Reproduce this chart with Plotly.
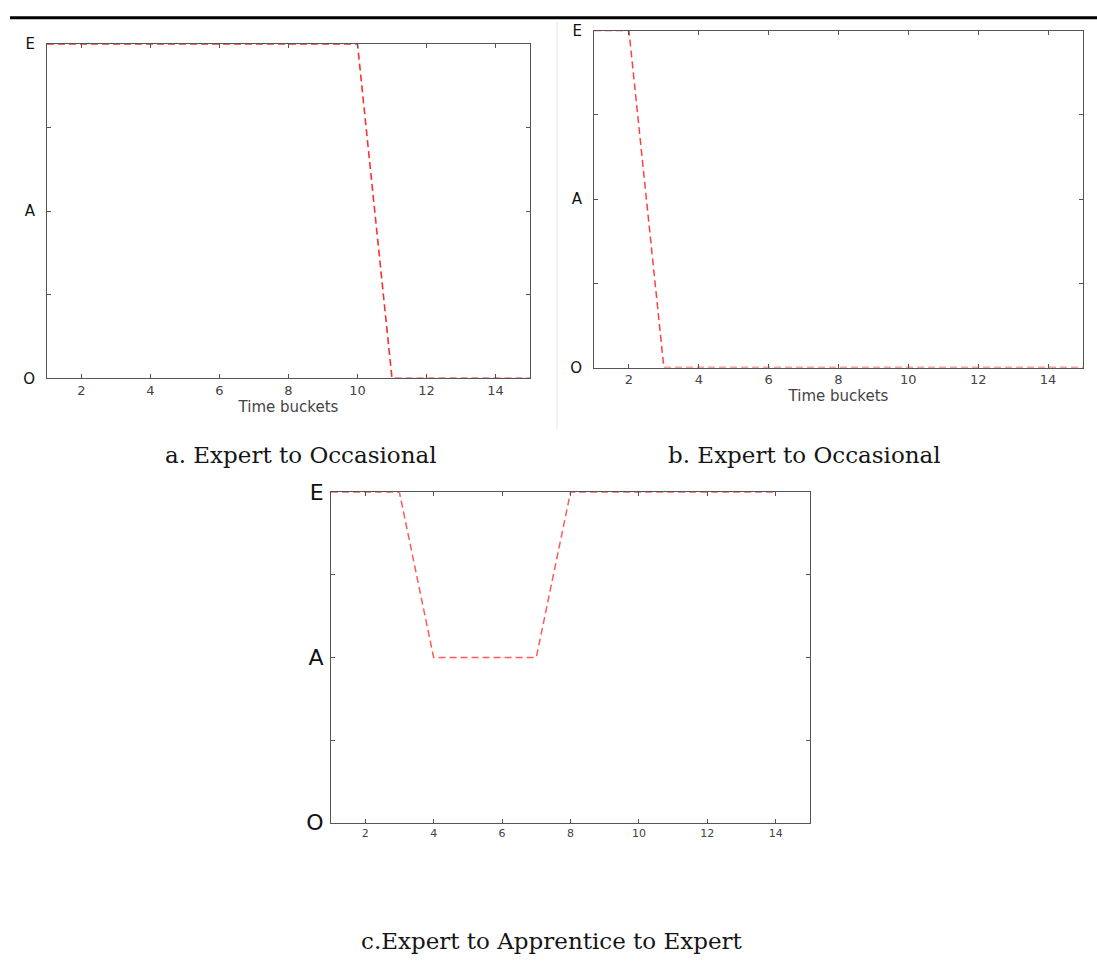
import plotly.graph_objects as go

# ---- data ----
x_a = list(range(1, 16))
state_a = [2] * 10 + [0] * 5            # E for buckets 1-10, then O

x_b = list(range(1, 16))
state_b = [2] * 2 + [0] * 13            # E for buckets 1-2, then O

x_c = list(range(1, 15))
state_c = [2, 2, 2, 1, 1, 1, 1, 2, 2, 2, 2, 2, 2, 2]   # E -> A -> E

x_ticks = [2, 4, 6, 8, 10, 12, 14]
y_tickvals = [0, 0.5, 1, 1.5, 2]
y_ticktext = ["O", "", "A", "", "E"]

captions = ["a. Expert to Occasional", "b. Expert to Occasional",
            "c.Expert to Apprentice to Expert"]

W, H = 1097, 971
def px(x): return x / W
def py(y): return 1 - y / H

fig = go.Figure()
fig.add_trace(go.Scatter(x=x_a, y=state_a, mode="lines", xaxis="x", yaxis="y",
                         line=dict(color="#ff2e2e", width=1.6, dash="7px,4px"), showlegend=False))
fig.add_trace(go.Scatter(x=x_b, y=state_b, mode="lines", xaxis="x2", yaxis="y2",
                         line=dict(color="#ff4040", width=1.5, dash="7px,4px"), showlegend=False))
fig.add_trace(go.Scatter(x=x_c, y=state_c, mode="lines", xaxis="x3", yaxis="y3",
                         line=dict(color="#ff5a5a", width=1.5, dash="7px,4px"), showlegend=False))

axis_common = dict(showline=True, linecolor="#555555", linewidth=1, mirror="ticks",
                   ticks="inside", ticklen=4, tickcolor="#555555", showgrid=False,
                   zeroline=False)

def xax(domain, anchor, size, title=None):
    d = dict(axis_common, domain=domain, anchor=anchor, range=[1, 15],
             tickvals=x_ticks, tickfont=dict(family="DejaVu Sans", size=size, color="#444444"))
    if title:
        d["title"] = dict(text=title, font=dict(family="DejaVu Sans", size=15, color="#444444"),
                          standoff=0)
    return d

def yax(domain, anchor, size, standoff):
    return dict(axis_common, domain=domain, anchor=anchor, range=[0, 2],
                tickvals=y_tickvals, ticktext=y_ticktext, ticklabelstandoff=standoff,
                tickfont=dict(family="DejaVu Sans", size=size, color="#111111"))

fig.update_layout(
    width=W, height=H, margin=dict(l=0, r=0, t=0, b=0),
    paper_bgcolor="white", plot_bgcolor="white",
    xaxis=xax([px(47), px(530)], "y", 13, "Time buckets"),
    yaxis=yax([py(376), py(33)], "x", 15, 8),
    xaxis2=xax([px(594), px(1083)], "y2", 13, "Time buckets"),
    yaxis2=yax([py(365), py(19)], "x2", 15, 8),
    xaxis3=xax([px(331), px(810)], "y3", 11),
    yaxis3=yax([py(832), py(493)], "x3", 22, 2),
)

# captions
cap_pos = [(301, 455), (804, 455), (552, 954)]
for text, (cx, cy) in zip(captions, cap_pos):
    fig.add_annotation(x=px(cx), y=py(cy), xref="paper", yref="paper", text=text,
                       showarrow=False, xanchor="center", yanchor="middle",
                       font=dict(family="DejaVu Serif", size=23, color="#151515"))

# top rule and faint separator
fig.add_shape(type="line", xref="paper", yref="paper", x0=px(10), x1=1, y0=py(6), y1=py(6),
              line=dict(color="black", width=3))
fig.add_shape(type="line", xref="paper", yref="paper", x0=px(557), x1=px(557), y0=py(10), y1=py(428),
              line=dict(color="#e6e6e6", width=1))

fig.write_html("out.html", config={"displayModeBar": False},
               post_script="document.body.style.margin='0';document.body.style.overflow='hidden';")
